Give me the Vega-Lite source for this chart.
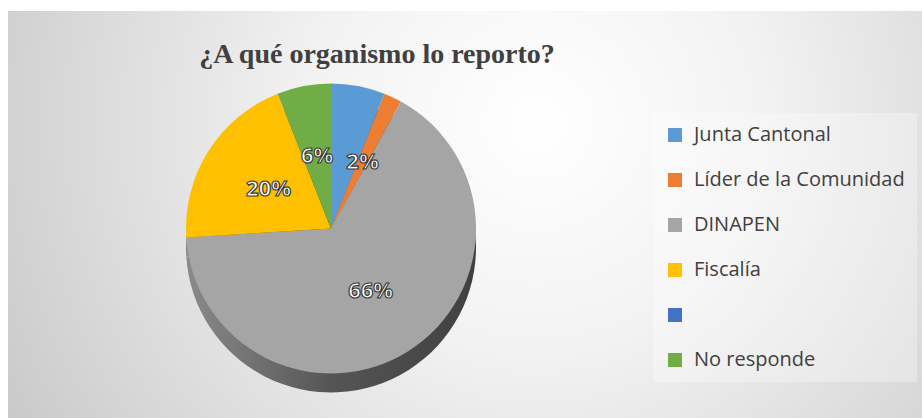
{
  "$schema": "https://vega.github.io/schema/vega-lite/v6.json",
  "width": 914,
  "height": 407,
  "autosize": "none",
  "padding": {"top": 11, "left": 8, "right": 0, "bottom": 0},
  "background": "white",
  "view": {
    "stroke": null,
    "fill": {
      "gradient": "radial",
      "x1": 0.58, "y1": 0.4, "r1": 0,
      "x2": 0.58, "y2": 0.4, "r2": 0.72,
      "stops": [
        {"offset": 0, "color": "#ffffff"},
        {"offset": 0.35, "color": "#f2f2f2"},
        {"offset": 1, "color": "#c4c4c4"}
      ]
    }
  },
  "title": {
    "text": "¿A qué organismo lo reporto?",
    "orient": "top",
    "anchor": "middle",
    "frame": "group",
    "offset": -80,
    "baseline": "alphabetic",
    "dx": -88,
    "font": "Liberation Serif",
    "fontSize": 28,
    "fontWeight": "bold",
    "color": "#404040"
  },
  "data": {
    "values": [
      {"idx": 1, "organismo": "Junta Cantonal", "value": 0.06},
      {"idx": 2, "organismo": "Líder de la Comunidad", "value": 0.02},
      {"idx": 3, "organismo": "DINAPEN", "value": 0.66},
      {"idx": 4, "organismo": "Fiscalía", "value": 0.20},
      {"idx": 5, "organismo": " ", "value": 0},
      {"idx": 6, "organismo": "No responde", "value": 0.06}
    ]
  },
  "encoding": {
    "theta": {"field": "value", "type": "quantitative", "stack": true},
    "order": {"field": "idx", "type": "quantitative"}
  },
  "layer": [
    {
      "mark": {
        "type": "arc",
        "outerRadius": 145,
        "xOffset": -134,
        "yOffset": 33,
        "fill": {
          "gradient": "linear",
          "x1": 0, "y1": 0, "x2": 1, "y2": 0,
          "stops": [
            {"offset": 0, "color": "#8a8a8a"},
            {"offset": 0.5, "color": "#555555"},
            {"offset": 1, "color": "#404040"}
          ]
        }
      }
    },
    {
      "mark": {"type": "arc", "outerRadius": 145, "xOffset": -134, "yOffset": 14},
      "encoding": {
        "color": {
          "field": "organismo",
          "type": "nominal",
          "sort": ["Junta Cantonal", "Líder de la Comunidad", "DINAPEN", "Fiscalía", " ", "No responde"],
          "scale": {
            "domain": ["Junta Cantonal", "Líder de la Comunidad", "DINAPEN", "Fiscalía", " ", "No responde"],
            "range": ["#5B9BD5", "#ED7D31", "#A5A5A5", "#FFC000", "#4472C4", "#70AD47"]
          },
          "legend": {
            "title": null,
            "orient": "none",
            "legendX": 645,
            "legendY": 102,
            "symbolType": "square",
            "symbolSize": 196,
            "symbolStrokeWidth": 0,
            "labelFont": "Open Sans",
            "labelFontSize": 20,
            "labelColor": "#404040",
            "labelLimit": 400,
            "labelOffset": 9,
            "rowPadding": 25,
            "padding": 12,
            "fillColor": "rgba(255,255,255,0.3)"
          }
        }
      }
    },
    {
      "transform": [{"filter": "datum.value > 0"}],
      "mark": {
        "type": "text",
        "font": "Open Sans",
        "fontSize": 22,
        "fontWeight": "bold",
        "fill": "white",
        "stroke": "#3b3b3b",
        "strokeWidth": 1.2,
        "xOffset": -134,
        "yOffset": 14,
        "baseline": "middle"
      },
      "encoding": {
        "radius": {"value": 74},
        "text": {
          "condition": {"test": "datum.idx == 1", "value": ""},
          "field": "value",
          "type": "quantitative",
          "format": ".0%"
        }
      }
    }
  ]
}
